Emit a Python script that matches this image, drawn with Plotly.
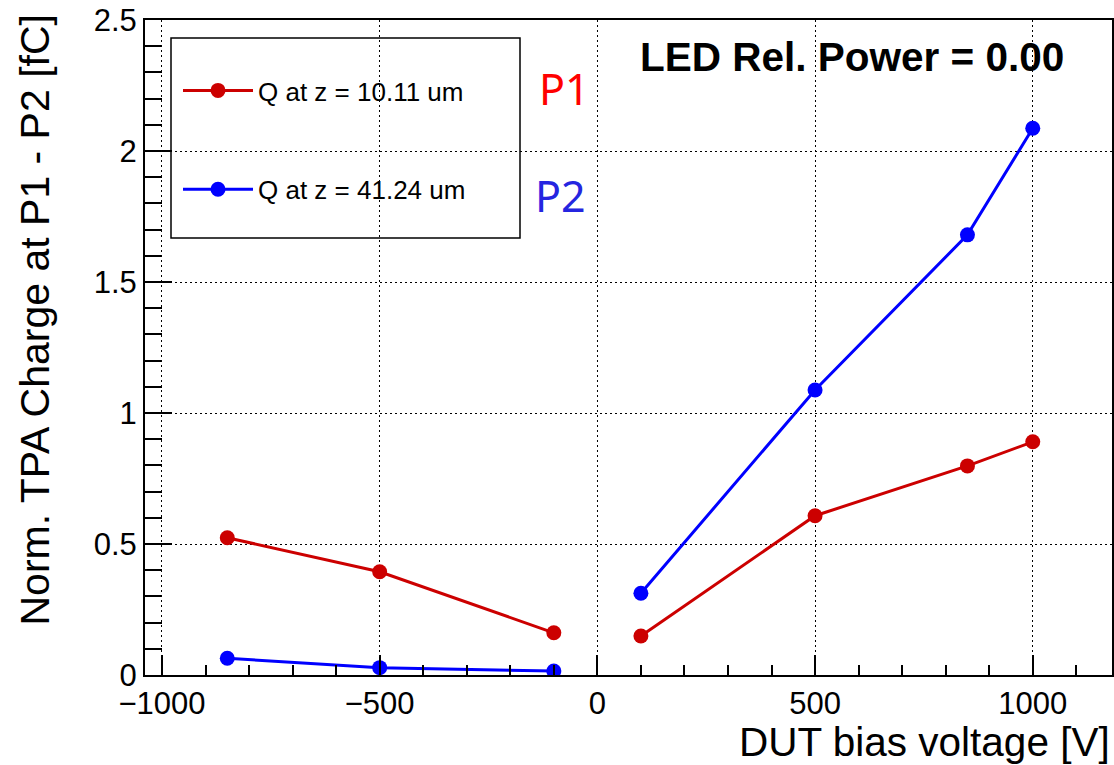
import plotly.graph_objects as go

# Data (None separates the negative and positive bias branches)
bias_v = [-850, -500, -100, None, 100, 500, 850, 1000]
q_p1 = [0.524, 0.394, 0.161, None, 0.149, 0.608, 0.798, 0.890]
q_p2 = [0.064, 0.028, 0.015, None, 0.312, 1.088, 1.680, 2.087]
names = ["Q at z = 10.11 um", "Q at z = 41.24 um"]
colors = ["#CC0000", "#0000FF"]

x_ticks = [-1000, -500, 0, 500, 1000]
x_ticklabels = ["\u22121000", "\u2212500", "0", "500", "1000"]
y_ticks = [0, 0.5, 1, 1.5, 2, 2.5]
y_ticklabels = ["0", "0.5", "1", "1.5", "2", "2.5"]

font_main = "Liberation Sans, Arial, Helvetica, sans-serif"

fig = go.Figure()
for i, (yv, nm, col) in enumerate(zip([q_p1, q_p2], names, colors)):
    fig.add_trace(go.Scatter(
        x=bias_v, y=yv, name=nm, mode="lines+markers",
        line=dict(color=col, width=3),
        marker=dict(color=col, size=15),
        connectgaps=False, legendgroup=f"g{i}",
    ))

W, H = 1114, 765
L, R, T, B = 145, 2, 20, 90
pw, ph = W - L - R, H - T - B

def px_x(p):
    return (p - L) / pw

def px_y(p):
    return (H - B - p) / ph

# Legend box
fig.add_shape(type="rect", xref="paper", yref="paper",
              x0=px_x(171), x1=px_x(520), y0=px_y(238), y1=px_y(38),
              line=dict(color="black", width=1.5), fillcolor="white", layer="between")

fig.add_annotation(text="<b>LED Rel. Power = 0.00</b>", xref="paper", yref="paper",
                   x=px_x(1066), y=px_y(57), xanchor="right", yanchor="middle",
                   showarrow=False, font=dict(family=font_main, size=40.5, color="black"))
fig.add_annotation(text="P1", xref="paper", yref="paper",
                   x=px_x(537), y=px_y(88), xanchor="left", yanchor="middle",
                   showarrow=False, font=dict(family="Noto Sans, Open Sans, sans-serif", size=43, color="#FF0000"))
fig.add_annotation(text="P2", xref="paper", yref="paper",
                   x=px_x(533), y=px_y(196), xanchor="left", yanchor="middle",
                   showarrow=False, font=dict(family="Noto Sans, Open Sans, sans-serif", size=43, color="#2525E0"))

fig.add_annotation(text="DUT bias voltage [V]", xref="paper", yref="paper",
                   x=1.0, y=px_y(742), xanchor="right", yanchor="middle",
                   showarrow=False, font=dict(family=font_main, size=40.5, color="black"))
fig.add_annotation(text="Norm. TPA Charge at P1 - P2 [fC]", xref="paper", yref="paper",
                   x=px_x(34), y=px_y(13), xanchor="center", yanchor="top", textangle=-90,
                   showarrow=False, font=dict(family=font_main, size=41, color="black"))

fig.update_layout(
    width=W, height=H,
    margin=dict(l=L, r=R, t=T, b=B, autoexpand=False),
    paper_bgcolor="white", plot_bgcolor="white",
    font=dict(family=font_main, color="black"),
    showlegend=True,
    legend=dict(x=px_x(178), y=px_y(67), xanchor="left", yanchor="top",
                bgcolor="rgba(0,0,0,0)", borderwidth=0, itemwidth=70,
                font=dict(family=font_main, size=26, color="black"),
                tracegroupgap=62, traceorder="grouped"),
)

fig.update_xaxes(
    range=[-1039, 1182], tickvals=x_ticks, ticktext=x_ticklabels,
    ticks="inside", ticklen=20, tickwidth=1.5, tickcolor="black",
    showline=True, linecolor="black", linewidth=2, mirror=True,
    showgrid=True, gridcolor="black", gridwidth=1, griddash="2px,3px",
    zeroline=False, tickfont=dict(family=font_main, size=31, color="black"),
    minor=dict(dtick=100, tick0=0, ticks="inside", ticklen=10, tickcolor="black", tickwidth=1.5, showgrid=False),
)
fig.update_yaxes(
    range=[0, 2.5], tickvals=y_ticks, ticktext=y_ticklabels,
    ticks="inside", ticklen=27, tickwidth=1.5, tickcolor="black",
    showline=True, linecolor="black", linewidth=2, mirror=True,
    showgrid=True, gridcolor="black", gridwidth=1, griddash="2px,3px",
    zeroline=False, tickfont=dict(family=font_main, size=31, color="black"),
    minor=dict(dtick=0.1, tick0=0, ticks="inside", ticklen=17, tickcolor="black", tickwidth=1.5, showgrid=False),
)

fig.write_html("out.html")
